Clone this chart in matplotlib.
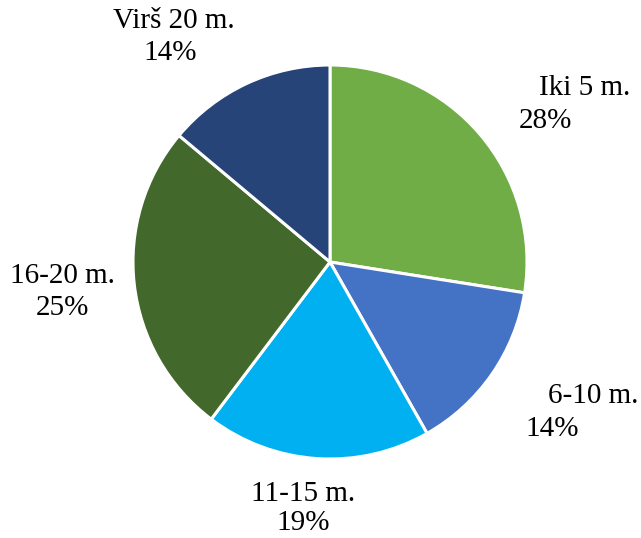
import matplotlib
matplotlib.use("Agg")
import matplotlib.pyplot as plt

categories = ["Iki 5 m.", "6-10 m.", "11-15 m.", "16-20 m.", "Virš 20 m."]
values = [27.5, 14.3, 18.5, 25.8, 13.9]
pct_labels = ["28%", "14%", "19%", "25%", "14%"]
colors = ["#70AD47", "#4472C4", "#00B0F0", "#43682B", "#264478"]

# label line centres in pixel coordinates (name line, percent line)
name_pos = [(585, 88), (593, 396), (303, 494), (62, 276), (174, 21)]
pct_pos = [(545, 121), (552, 429), (303, 523), (62, 308), (170, 53)]

W, H = 641, 538
cx, cy, R = 330, 262, 197

fig = plt.figure(figsize=(W / 100, H / 100), dpi=100)
ax = fig.add_axes([0, 0, 1, 1])
ax.pie(values, colors=colors, startangle=90, counterclock=False, radius=1,
       wedgeprops=dict(edgecolor="white", linewidth=2.2))
ax.set_xlim(-cx / R, (W - cx) / R)
ax.set_ylim(-(H - cy) / R, cy / R)
ax.set_aspect("auto")
ax.axis("off")

def to_data(p):
    return (p[0] - cx) / R, (cy - p[1]) / R

font = dict(family=["Liberation Serif", "DejaVu Serif"], fontsize=21, color="black")
for name, pct, npos, ppos in zip(categories, pct_labels, name_pos, pct_pos):
    x, y = to_data(npos)
    ax.text(x, y, name, ha="center", va="center", **font)
    x, y = to_data(ppos)
    ax.text(x, y, pct, ha="center", va="center", **font)

fig.savefig("out.png", dpi=100)
